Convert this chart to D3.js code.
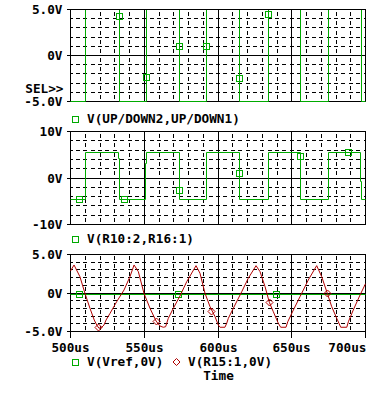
<!DOCTYPE html>
<html><head><meta charset="utf-8">
<script src="https://cdn.jsdelivr.net/npm/d3@7"></script>
<style>
html,body{margin:0;padding:0;background:#fff;}
svg{display:block;}
text{font-family:"DejaVu Sans Mono",monospace;font-weight:bold;font-size:12.7px;fill:#000;}
</style></head><body>
<svg id="c" width="372" height="400"></svg>
<script>
const GREEN = "#00aa00", RED = "#b00000";

// x axis
const xTickValues = [500, 550, 600, 650, 700];
const xTickLabels = ["500us", "550us", "600us", "650us", "700us"];

// panel 1 : V(UP/DOWN2,UP/DOWN1)
const p1T = [500, 510.5, 510.5, 533.1, 533.1, 551.5, 551.5, 573.9, 573.9, 592.3, 592.3, 614.9, 614.9, 634.1, 634.1, 656.1, 656.1, 674.8, 674.8, 697.1, 697.1, 700];
const p1V = [-5, -5, 10, 10, -5, -5, 10, 10, -5, -5, 10, 10, -5, -5, 10, 10, -5, -5, 10, 10, -5, -5];
const p1MarkT = [533.1, 551.5, 573.9, 592.3, 614.9, 634.1];
const p1MarkV = [4.22, -2.37, 1.0, 1.0, -2.48, 4.48];

// panel 2 : V(R10:2,R16:1)
const p2T = [500, 510.5, 510.5, 532.4, 532.4, 533.1, 533.1, 551.0, 551.0, 551.5, 551.5, 573.9, 573.9, 592.3, 592.3, 614.9, 614.9, 634.1, 634.1, 656.1, 656.1, 674.8, 674.8, 696.4, 696.4, 697.1, 697.1, 700];
const p2V = [-4.71, -4.71, 5.57, 5.57, 4.1, 4.1, -4.71, -4.71, 3.1, 3.1, 5.57, 5.57, -4.71, -4.71, 5.57, 5.57, -4.71, -4.71, 5.57, 5.57, -4.71, -4.71, 5.57, 5.57, -0.7, -0.7, -4.71, -4.71];
const p2MarkT = [506.4, 536.5, 573.9, 614.9, 656.1, 688.3];
const p2MarkV = [-4.71, -4.71, -2.65, 1.0, 4.73, 5.57];

// panel 3 : V(Vref,0V) and V(R15:1,0V)
const vrefT = [500, 700];
const vrefV = [-0.25, -0.25];
const vrefMarkT = [506.4, 573.1, 639.8];
const vrefMarkV = [-0.25, -0.25, -0.25];
const r15T = [500, 502.4, 506.4, 509.8, 513.2, 516.1, 517.8, 519.3, 521.2, 522.7, 524.1, 526.8, 531.3, 536.3, 540.3, 543.1,
  546.0, 549.8, 553.9, 558.0, 560.7, 562.9, 564.5, 566.3, 569.7, 574.2, 578.8, 585.1,
  587.8, 591.2, 594.6, 598.0, 600.2, 601.4, 604.7, 605.9, 607.0, 611.5, 616.1, 620.5, 625.8,
  628.5, 631.9, 634.8, 637.5, 640.9, 642.5, 646.1, 647.3, 651.1, 655.6, 661.2, 666.9,
  670.3, 674.1, 677.1, 680.5, 683.2, 687.3, 688.4, 691.7, 696.3, 700];
const r15V = [2.85, 3.64, 2.12, -0.04, -1.99, -3.51, -4.16, -4.58, -4.45, -4.16, -3.51, -2.64, -1.13, 0.39, 2.12, 3.64,
  2.77, -0.04, -1.99, -3.64, -4.29, -4.45, -4.38, -3.29, -1.99, -0.39, 1.47, 3.55,
  2.56, -0.04, -1.78, -3.08, -4.16, -4.45, -4.45, -3.94, -3.29, -1.56, 0.17, 1.91, 3.55,
  2.77, 0.82, -1.21, -2.43, -3.94, -4.45, -4.45, -3.73, -2.21, -0.48, 1.69, 3.55,
  2.12, -0.04, -1.78, -3.29, -4.45, -4.45, -3.73, -2.21, -0.26, 1.2];
const r15MarkT = [519.3, 558.0, 595.9, 634.8, 674.1];
const r15MarkV = [-4.5, -3.64, -2.34, -1.21, -0.04];

const panelTops = [9.5, 131.5, 254.5];
const panelBottoms = [101.5, 224.5, 331.5];
const panelDomains = [[-5, 5], [-10, 10], [-5, 5]];
const yTickValues = [[5, 0, -5], [10, 0, -10], [5, 0, -5]];
const yTickLabels = [["5.0V", "0V", "-5.0V"], ["10V", "0V", "-10V"], ["5.0V", "0V", "-5.0V"]];

const svg = d3.select("#c");
const x = d3.scaleLinear().domain([500, 700]).range([70.5, 365.5]);
const X0 = x.range()[0], X1 = x.range()[1];
const minorX = x.ticks(20).filter(t => t % 50 !== 0);
const majorX = x.ticks(4).filter(t => t !== 500 && t !== 700);
const colSp = x(510) - x(500);
const snap = v => Math.round(v - 0.5) + 0.5;

const ys = panelTops.map((t, i) => d3.scaleLinear().domain(panelDomains[i]).range([panelBottoms[i], t]));

ys.forEach((y, i) => {
  const top = panelTops[i], bot = panelBottoms[i];
  const g = svg.append("g").attr("shape-rendering", "crispEdges");
  const rows = y.ticks(10);
  const rowSp = Math.abs(y(rows[1]) - y(rows[0]));
  // minor horizontal (dashed)
  g.selectAll(".mh").data(rows.filter(r => r !== 0 && r !== panelDomains[i][0] && r !== panelDomains[i][1]))
    .join("line").attr("x1", X0).attr("x2", X1).attr("y1", d => snap(y(d))).attr("y2", d => snap(y(d)))
    .attr("stroke", "#000").attr("stroke-dasharray", `4 ${colSp / 2 - 4}`).attr("stroke-dashoffset", 2);
  // minor vertical (dashed)
  g.selectAll(".mv").data(minorX).join("line")
    .attr("x1", d => snap(x(d))).attr("x2", d => snap(x(d))).attr("y1", top).attr("y2", bot)
    .attr("stroke", "#000").attr("stroke-dasharray", `4 ${rowSp - 4}`).attr("stroke-dashoffset", rowSp / 2 + 2);
  // major vertical
  g.selectAll(".Mv").data(majorX).join("line")
    .attr("x1", d => snap(x(d))).attr("x2", d => snap(x(d))).attr("y1", top).attr("y2", bot)
    .attr("stroke", "#000");
  // zero line
  g.append("line").attr("x1", X0).attr("x2", X1).attr("y1", snap(y(0))).attr("y2", snap(y(0))).attr("stroke", "#000");
  // border
  g.append("rect").attr("x", X0).attr("y", top).attr("width", X1 - X0).attr("height", bot - top)
    .attr("fill", "none").attr("stroke", "#000");
  // y ticks and labels
  yTickValues[i].forEach((v, k) => {
    const yy = snap(y(v));
    g.append("line").attr("x1", X0 - 4).attr("x2", X0).attr("y1", yy).attr("y2", yy).attr("stroke", "#000");
    svg.append("text").attr("x", 62.5).attr("y", yy + 4.6).attr("text-anchor", "end").text(yTickLabels[i][k]);
  });
  svg.append("clipPath").attr("id", "clip" + i).append("rect")
    .attr("x", X0 - 0.5).attr("y", top + 0.5).attr("width", X1 - X0 + 1).attr("height", bot - top);
});

// snapped line generator for step traces, plain for analog trace
const stepLine = (T, V, y) => d3.line().x((d, k) => snap(x(T[k]))).y((d, k) => snap(y(V[k])))(T);
const line = (T, V, y) => d3.line().x((d, k) => x(T[k])).y((d, k) => y(V[k]))(T);

function squares(T, V, y, clip) {
  svg.append("g").attr("clip-path", clip)
    .selectAll("rect").data(T).join("rect")
    .attr("x", (d, k) => snap(x(T[k])) - 3).attr("y", (d, k) => snap(y(V[k])) - 3)
    .attr("width", 6).attr("height", 6).attr("fill", "none").attr("stroke", GREEN);
}
function diamonds(T, V, y) {
  svg.append("g").selectAll("path").data(T).join("path")
    .attr("d", (d, k) => { const cx = snap(x(T[k])), cy = snap(y(V[k])); return `M${cx},${cy - 3.5}L${cx + 3.5},${cy}L${cx},${cy + 3.5}L${cx - 3.5},${cy}Z`; })
    .attr("fill", "none").attr("stroke", RED);
}

// panel 1 trace
svg.append("path").attr("clip-path", "url(#clip0)").attr("d", stepLine(p1T, p1V, ys[0]))
  .attr("fill", "none").attr("stroke", GREEN);
squares(p1MarkT, p1MarkV, ys[0], "url(#clip0)");
// panel 2 trace
svg.append("path").attr("clip-path", "url(#clip1)").attr("d", stepLine(p2T, p2V, ys[1]))
  .attr("fill", "none").attr("stroke", GREEN);
squares(p2MarkT, p2MarkV, ys[1], "url(#clip1)");
// panel 3 traces
svg.append("path").attr("clip-path", "url(#clip2)").attr("d", stepLine(vrefT, vrefV, ys[2]))
  .attr("fill", "none").attr("stroke", GREEN);
squares(vrefMarkT, vrefMarkV, ys[2], "url(#clip2)");
svg.append("path").attr("clip-path", "url(#clip2)").attr("d", line(r15T, r15V, ys[2]))
  .attr("fill", "none").attr("stroke", RED).attr("stroke-width", 1);
diamonds(r15MarkT, r15MarkV, ys[2]);

// x ticks & labels
const bot3 = panelBottoms[2];
xTickValues.forEach((t, k) => {
  const xx = snap(x(t));
  svg.append("line").attr("x1", xx).attr("x2", xx).attr("y1", bot3).attr("y2", bot3 + 6).attr("stroke", "#000").attr("shape-rendering", "crispEdges");
  const last = k === xTickValues.length - 1;
  svg.append("text").attr("x", last ? 366.5 : xx).attr("y", 351.5).attr("text-anchor", last ? "end" : "middle").text(xTickLabels[k]);
});

// SEL>>
svg.append("text").attr("x", 63.5).attr("y", 92.5).attr("text-anchor", "end").text("SEL>>");

// legends
function legSquare(cx, cy) {
  svg.append("rect").attr("x", cx - 3 + 0.5).attr("y", cy - 3 + 0.5).attr("width", 6).attr("height", 6)
    .attr("fill", "none").attr("stroke", GREEN);
}
legSquare(75, 119); svg.append("text").attr("x", 87).attr("y", 122.5).text("V(UP/DOWN2,UP/DOWN1)");
legSquare(75, 239); svg.append("text").attr("x", 87).attr("y", 242.5).text("V(R10:2,R16:1)");
legSquare(75, 362); svg.append("text").attr("x", 87).attr("y", 366).text("V(Vref,0V)");
svg.append("path").attr("d", "M176.5,358.5L180,362L176.5,365.5L173,362Z").attr("fill", "none").attr("stroke", RED);
svg.append("text").attr("x", 188).attr("y", 366).text("V(R15:1,0V)");
svg.append("text").attr("x", 218.5).attr("y", 380).attr("text-anchor", "middle").text("Time");
</script>
</body></html>
